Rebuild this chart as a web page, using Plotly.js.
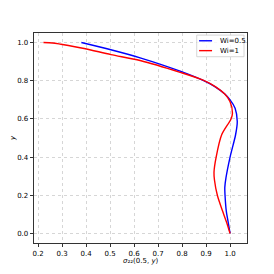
<!DOCTYPE html>
<html><head><meta charset="utf-8">
<script src="https://cdn.plot.ly/plotly-3.0.1.min.js"></script>
<style>html,body{margin:0;padding:0;background:#fff}#c{width:274px;height:274px}</style>
</head><body><div id="c"></div>
<script>
const seriesNames = ["Wi=0.5", "Wi=1"];
const seriesColors = ["blue", "red"];
const blueX = [0.380, 0.503, 0.625, 0.792, 0.890, 0.935, 0.978, 1.000, 1.021, 1.030, 1.023, 1.000, 0.983, 0.978, 0.979, 0.984, 0.992, 1.000];
const blueY = [1.000, 0.962, 0.920, 0.850, 0.800, 0.770, 0.730, 0.700, 0.656, 0.587, 0.517, 0.400, 0.292, 0.240, 0.200, 0.120, 0.060, 0.000];
const redX = [0.222, 0.260, 0.295, 0.392, 0.503, 0.625, 0.792, 0.890, 0.940, 0.978, 1.000, 1.010, 1.004, 0.965, 0.942, 0.933, 0.935, 0.947, 0.968, 0.985, 1.000];
const redY = [1.000, 0.998, 0.991, 0.969, 0.937, 0.906, 0.844, 0.802, 0.768, 0.730, 0.690, 0.630, 0.600, 0.517, 0.400, 0.320, 0.280, 0.200, 0.120, 0.060, 0.000];
const xTicks = [0.2, 0.3, 0.4, 0.5, 0.6, 0.7, 0.8, 0.9, 1.0];
const yTicks = [0.0, 0.2, 0.4, 0.6, 0.8, 1.0];
const xTitle = "<i>σ</i>₂₂(0.5, <i>y</i>)";
const yTitle = "<i>y</i>";

const font = {family: "DejaVu Sans", size: 7, color: "#000"};
const axisCommon = {
  showline: true, linecolor: "#000", linewidth: 0.8, mirror: true,
  ticks: "outside", ticklen: 3.5, tickwidth: 0.8, tickcolor: "#000",
  showgrid: true, gridcolor: "#c4c4c4", gridwidth: 0.7, griddash: "dot",
  zeroline: false, tickfont: font
};
const data = [
  {x: blueX, y: blueY, name: seriesNames[0], mode: "lines", type: "scatter",
   line: {color: seriesColors[0], width: 1.4, shape: "spline", smoothing: 0.8}},
  {x: redX, y: redY, name: seriesNames[1], mode: "lines", type: "scatter",
   line: {color: seriesColors[1], width: 1.4, shape: "spline", smoothing: 0.8}}
];
// legend drawn in paper coordinates
const legX0 = 0.764, legX1 = 0.986, legY0 = 0.887, legY1 = 0.990;
const rowY = [0.963, 0.916];
const shapes = [{type: "rect", xref: "paper", yref: "paper", x0: legX0, x1: legX1, y0: legY0, y1: legY1,
  line: {color: "#cccccc", width: 0.8}, fillcolor: "rgba(255,255,255,0.8)", layer: "above"}];
const annotations = [
  {xref: "paper", yref: "paper", x: 0.5, y: -0.06, xanchor: "center", yanchor: "top",
   text: xTitle, showarrow: false, font: font, borderpad: 0},
  {xref: "paper", yref: "paper", x: -0.099, y: 0.5, xanchor: "center", yanchor: "middle",
   text: yTitle, textangle: -90, showarrow: false, font: font}
];
seriesNames.forEach((n, i) => {
  shapes.push({type: "line", xref: "paper", yref: "paper", x0: 0.775, x1: 0.836, y0: rowY[i], y1: rowY[i],
    line: {color: seriesColors[i], width: 1.4}, layer: "above"});
  annotations.push({xref: "paper", yref: "paper", x: 0.862, y: rowY[i], xanchor: "left", yanchor: "middle",
    text: n, showarrow: false, font: font});
});
const layout = {
  width: 274, height: 274,
  margin: {l: 34, r: 27, t: 33, b: 31},
  paper_bgcolor: "#fff", plot_bgcolor: "#fff",
  font: font,
  showlegend: false,
  shapes: shapes, annotations: annotations,
  xaxis: Object.assign({}, axisCommon, {
    range: [0.1826, 1.0706], tickvals: xTicks, ticktext: xTicks.map(v => v.toFixed(1))
  }),
  yaxis: Object.assign({}, axisCommon, {
    range: [-0.05, 1.05], tickvals: yTicks, ticktext: yTicks.map(v => v.toFixed(1))
  })
};
Plotly.newPlot("c", data, layout, {displayModeBar: false, staticPlot: true});
</script></body></html>
